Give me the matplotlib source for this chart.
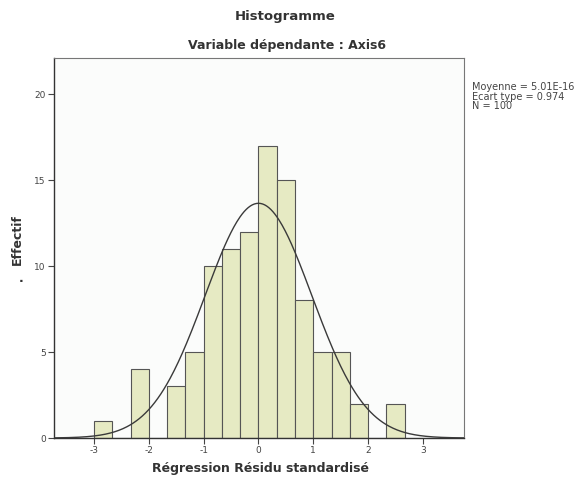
import numpy as np
import matplotlib
matplotlib.use('Agg')
import matplotlib.pyplot as plt

# Histogram of standardized residuals (bins of width 1/3 starting at -3)
bin_start = -3.0
bin_width = 1.0 / 3.0
counts = [1, 0, 4, 0, 3, 5, 10, 11, 12, 17, 15, 8, 5, 5, 2, 0, 2]

mean = 5.01e-16
std = 0.974
n = 100

x_ticks = [-3, -2, -1, 0, 1, 2, 3]
y_ticks = [0, 5, 10, 15, 20]

title = 'Histogramme'
subtitle = 'Variable dépendante : Axis6'
xlabel = 'Régression Résidu standardisé'
ylabel = 'Effectif'
stats_lines = ['Moyenne = 5.01E-16', 'Ecart type = 0.974', 'N = 100']

BAR_COLOR = '#E6EAC3'
EDGE_COLOR = '#555555'
TEXT_COLOR = '#333333'

fig = plt.figure(figsize=(5.85, 4.84), dpi=100)
fig.patch.set_facecolor('white')
ax = fig.add_axes([0.0923, 0.095, 0.701, 0.785])
ax.set_facecolor('#FBFCFB')

edges = bin_start + bin_width * np.arange(len(counts) + 1)
ax.bar(edges[:-1], counts, width=bin_width, align='edge',
       color=BAR_COLOR, edgecolor=EDGE_COLOR, linewidth=0.8, zorder=2)

# fitted normal curve, scaled to counts
xs = np.linspace(-3.73, 3.75, 400)
pdf = np.exp(-0.5 * ((xs - mean) / std) ** 2) / (std * np.sqrt(2 * np.pi))
ax.plot(xs, n * bin_width * pdf, color='#3a3a3a', linewidth=1.0, zorder=3)

ax.set_xlim(-3.73, 3.75)
ax.set_ylim(0, 22.1)
ax.set_xticks(x_ticks)
ax.set_yticks(y_ticks)
ax.set_xticklabels([str(t) for t in x_ticks])
ax.tick_params(direction='out', length=4, width=0.8, colors='#444444',
               labelsize=6.5, pad=2)

for side in ['left', 'bottom']:
    ax.spines[side].set_color('#333333')
    ax.spines[side].set_linewidth(1.0)
for side in ['top', 'right']:
    ax.spines[side].set_color('#777777')
    ax.spines[side].set_linewidth(0.8)

fig.text(0.487, 0.965, title, ha='center', va='center', fontsize=9.5,
         fontweight='bold', color=TEXT_COLOR)
fig.text(0.49, 0.907, subtitle, ha='center', va='center', fontsize=9,
         fontweight='bold', color=TEXT_COLOR)
fig.text(0.445, 0.033, xlabel, ha='center', va='center', fontsize=9,
         fontweight='bold', color=TEXT_COLOR)
fig.text(0.029, 0.505, ylabel, ha='center', va='center', fontsize=9,
         fontweight='bold', color=TEXT_COLOR, rotation=90)
fig.text(0.036, 0.425, '.', ha='center', va='center', fontsize=9,
         fontweight='bold', color=TEXT_COLOR)

fig.text(0.806, 0.83, '\n'.join(stats_lines), ha='left', va='top',
         fontsize=7, color='#444444', linespacing=0.95)

fig.savefig('out.png', dpi=100)
